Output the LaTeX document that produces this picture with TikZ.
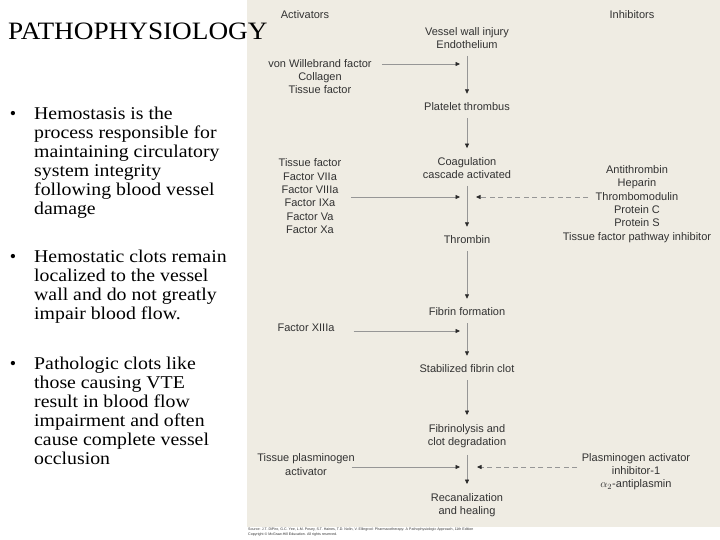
\documentclass[tikz,border=0pt]{standalone}
\usepackage{fontspec}
\setmainfont{Liberation Serif}
\newfontfamily\bodyfont[FakeStretch=1.1]{Liberation Serif}
\newfontfamily\headfont[FakeStretch=1.09]{Liberation Serif}
\newfontfamily\panelfont{Liberation Sans}
\usetikzlibrary{arrows.meta}

\definecolor{panelbg}{RGB}{239,236,227}
\definecolor{inktext}{RGB}{50,50,50}
\definecolor{linegray}{RGB}{150,150,150}
\definecolor{tipgray}{RGB}{40,40,40}

\begin{document}
\begin{tikzpicture}[
    x=1pt, y=-1pt,
    stage/.style={inner sep=0pt, align=center, text=inktext, font=\panelfont\fontsize{11}{13.3}\selectfont},
    agent/.style={stage},
    flow/.style={draw=linegray, line width=0.6pt, -{Triangle[length=4.5pt,width=4pt,color=tipgray]}},
    halt/.style={flow, dash pattern=on 5pt off 3.5pt},
    point/.style={inner sep=0pt, anchor=north west, align=left, font=\bodyfont\fontsize{18}{19}\selectfont},
    dot/.style={inner sep=0pt, anchor=base, font=\fontsize{18}{19}\selectfont}
]
    \useasboundingbox (0,0) rectangle (720,540);

    % figure panel
    \fill[panelbg] (247,0) rectangle (720,527);

    % left column
    \node[anchor=base west, inner sep=0pt, font=\headfont\fontsize{25}{30}\selectfont] (title) at (8,40) {PATHOPHYSIOLOGY};
    \node[dot] (d1) at (13,119.3) {•};
    \node[point] (p1) at (34,107) {Hemostasis is the\\process responsible for\\maintaining circulatory\\system integrity\\following blood vessel\\damage};
    \node[dot] (d2) at (13,262.3) {•};
    \node[point] (p2) at (34,250) {Hemostatic clots remain\\localized to the vessel\\wall and do not greatly\\impair blood flow.};
    \node[dot] (d3) at (13,369.3) {•};
    \node[point] (p3) at (34,357) {Pathologic clots like\\those causing VTE\\result in blood flow\\impairment and often\\cause complete vessel\\occlusion};

    \node[stage] (acttitle) at (305,15) {Activators};
    \node[stage] (inhtitle) at (632,15) {Inhibitors};

    \node[stage] (vessel) at (467,38) {Vessel wall injury\\Endothelium};
    \node[stage] (platelet) at (467,107) {Platelet thrombus};
    \node[stage] (coag) at (467,168) {Coagulation\\cascade activated};
    \node[stage] (thrombin) at (467,240) {Thrombin};
    \node[stage] (fibrin) at (467,312) {Fibrin formation};
    \node[stage] (stable) at (467,369) {Stabilized fibrin clot};
    \node[stage] (lysis) at (467,436) {Fibrinolysis and\\clot degradation};
    \node[stage] (recan) at (467,505) {Recanalization\\and healing};

    \node[agent] (vwf) at (320,76.7) {von Willebrand factor\\Collagen\\Tissue factor};
    \node[agent] (tf) at (310,196.3) {Tissue factor\\Factor VIIa\\Factor VIIIa\\Factor IXa\\Factor Va\\Factor Xa};
    \node[agent] (xiii) at (306,328) {Factor XIIIa};
    \node[agent] (tpa) at (306,464.5) {Tissue plasminogen\\activator};
    \node[agent] (anti) at (637,204) {Antithrombin\\Heparin\\Thrombomodulin\\Protein C\\Protein S\\Tissue factor pathway inhibitor};
    \node[agent] (pai) at (636,471.7) {Plasminogen activator\\inhibitor-1\\$\alpha_2$-antiplasmin};

    \coordinate (in1) at (460,64);
    \coordinate (in2) at (460,197);
    \coordinate (in3) at (460,331);
    \coordinate (in4) at (460,467);
    \coordinate (off2) at (476,197);
    \coordinate (off4) at (477,467);
    \coordinate (from2) at (588,197);
    \coordinate (from4) at (577,467);

    \foreach \a/\b in {vessel/platelet, platelet/coag, coag/thrombin, thrombin/fibrin,
                       fibrin/stable, stable/lysis, lysis/recan}
        \draw[flow, shorten <=7pt, shorten >=9pt] (\a) -- (\b);

    \draw[flow, shorten <=10pt] (vwf.east |- in1) -- (in1);
    \draw[flow, shorten <=10pt] (tf.east |- in2) -- (in2);
    \draw[flow, shorten <=19pt] (xiii.east |- in3) -- (in3);
    \draw[flow, shorten <=-3pt] (tpa.east |- in4) -- (in4);
    \draw[halt] (from2) -- (off2);
    \draw[halt] (from4) -- (off4);

    \node[anchor=north west, inner sep=0pt, align=left, text=inktext, font=\panelfont\fontsize{3.6}{4.3}\selectfont] (src) at (248,528)
        {Source: J.T. DiPiro, G.C. Yee, L.M. Posey, S.T. Haines, T.D. Nolin, V. Ellingrod: Pharmacotherapy: A Pathophysiologic Approach, 11th Edition\\Copyright \textcopyright{} McGraw-Hill Education. All rights reserved.};
\end{tikzpicture}
\end{document}
